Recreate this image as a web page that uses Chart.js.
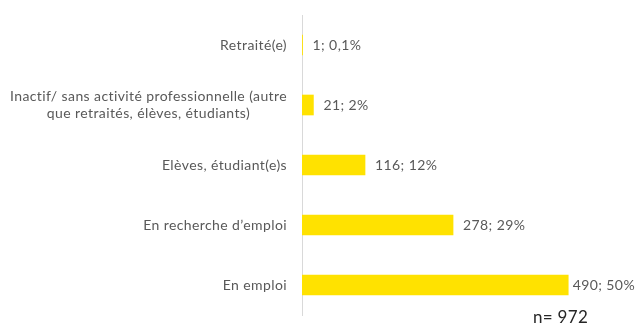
<!DOCTYPE html>
<html>
<head>
<meta charset="utf-8">
<script src="https://cdn.jsdelivr.net/npm/chart.js@4"></script>
<style>
  html, body { margin: 0; padding: 0; background: #fff; overflow: hidden; }
  #wrap { position: relative; width: 636px; height: 327px; overflow: hidden; }
  #note { position: absolute; left: 533px; top: 307px; font: 17px/20px Lato, sans-serif; color: #262626; letter-spacing: 0.3px; }
</style>
</head>
<body>
<div id="wrap">
  <canvas id="chart" width="636" height="327"></canvas>
  <div id="note">n= 972</div>
</div>
<script>
// Situation professionnelle des répondants
const categories = [
  ['Retraité(e)'],
  ['Inactif/ sans activité professionnelle (autre', 'que retraités, élèves, étudiants)'],
  ['Elèves, étudiant(e)s'],
  ['En recherche d\u2019emploi'],
  ['En emploi']
];
const counts = [1, 21, 116, 278, 490];
const shares = ['0,1%', '2%', '12%', '29%', '50%'];

const FONT = '14px Lato, sans-serif';
const SPACING = '0.4px';
const GREY = '#595959';

// libellés de catégories : bloc aligné à droite, lignes centrées entre elles
const categoryLabels = {
  id: 'categoryLabels',
  afterDraw(chart) {
    const { ctx } = chart;
    const y = chart.scales.y;
    const right = y.right - 15;
    ctx.save();
    ctx.font = FONT;
    ctx.letterSpacing = SPACING;
    ctx.fillStyle = GREY;
    ctx.textAlign = 'center';
    ctx.textBaseline = 'middle';
    categories.forEach((lines, i) => {
      const w = Math.max(...lines.map(l => ctx.measureText(l).width));
      const cx = right - w / 2;
      const cy = y.getPixelForValue(i);
      const lh = 17;
      lines.forEach((l, j) => {
        ctx.fillText(l, cx, cy + (j - (lines.length - 1) / 2) * lh);
      });
    });
    ctx.restore();
  }
};

// étiquettes de valeur à droite des barres (repoussées si elles débordent)
const valueLabels = {
  id: 'valueLabels',
  afterDatasetsDraw(chart) {
    const { ctx } = chart;
    const meta = chart.getDatasetMeta(0);
    ctx.save();
    ctx.font = FONT;
    ctx.letterSpacing = SPACING;
    ctx.fillStyle = GREY;
    ctx.textAlign = 'left';
    ctx.textBaseline = 'middle';
    meta.data.forEach((bar, i) => {
      const txt = counts[i] + '; ' + shares[i];
      const w = ctx.measureText(txt).width;
      const x = Math.min(bar.x + 10, chart.width - w - 1);
      ctx.fillText(txt, x, bar.y);
    });
    ctx.restore();
  }
};

new Chart(document.getElementById('chart'), {
  type: 'bar',
  data: {
    labels: categories.map(l => l.join(' ')),
    datasets: [{
      data: counts,
      backgroundColor: '#FFE200',
      barThickness: 20
    }]
  },
  options: {
    indexAxis: 'y',
    responsive: false,
    animation: false,
    layout: { padding: { top: 15, bottom: 12, right: 8, left: 0 } },
    plugins: { legend: { display: false }, tooltip: { enabled: false } },
    scales: {
      x: {
        min: 0, max: 600,
        display: false
      },
      y: {
        grid: { display: false, drawTicks: false },
        border: { display: true, color: '#d9d9d9', width: 1 },
        ticks: { display: false },
        afterFit(scale) { scale.width = 302; }
      }
    }
  },
  plugins: [categoryLabels, valueLabels]
});
</script>
</body>
</html>
